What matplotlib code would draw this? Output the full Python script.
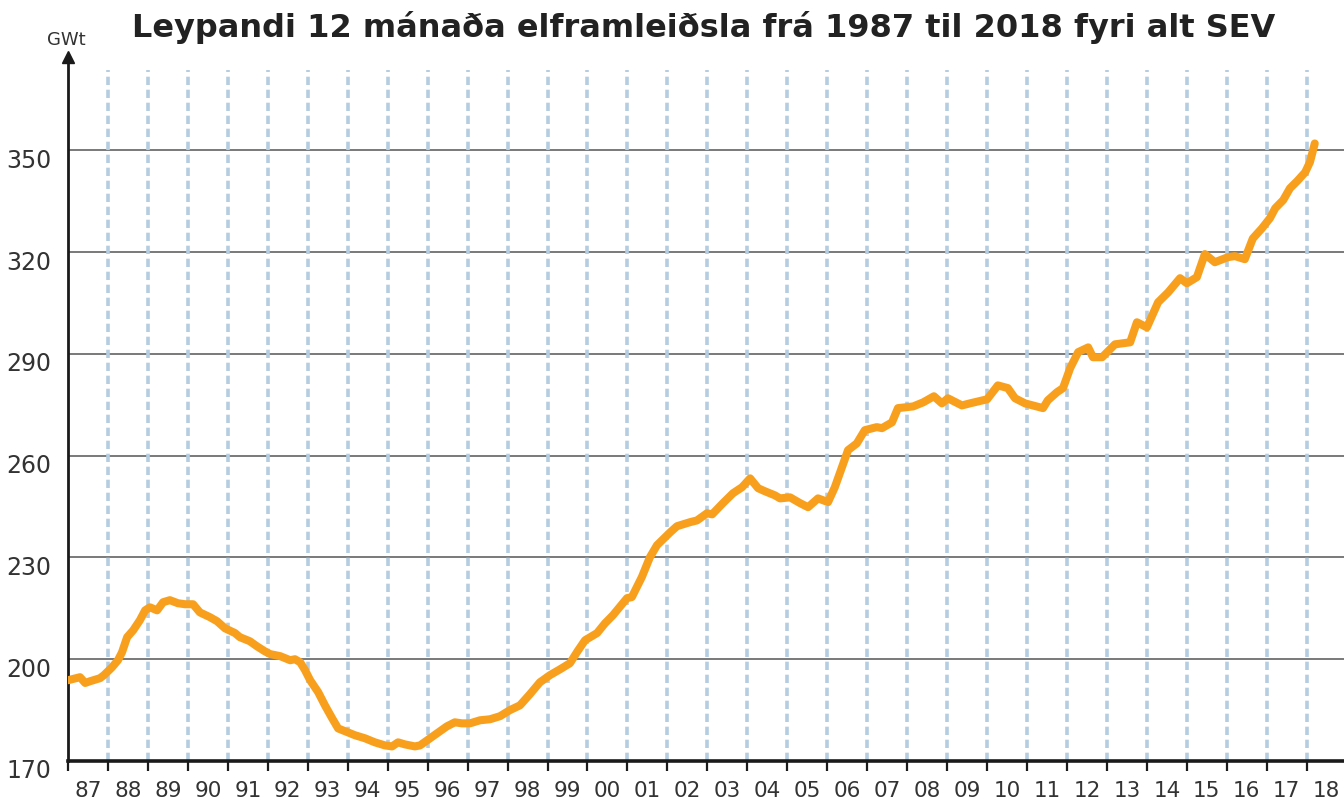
import numpy as np
import matplotlib.pyplot as plt
from matplotlib.transforms import ScaledTranslation

# Leypandi 12 mánaða elframleiðsla (GWt)
years = [1987.00, 1987.30, 1987.43, 1987.55, 1987.80, 1987.90, 1988.10, 1988.25, 1988.35, 1988.48,
         1988.63, 1988.80, 1988.93, 1989.05, 1989.23, 1989.38, 1989.55, 1989.75, 1989.93, 1990.13,
         1990.30, 1990.55, 1990.73, 1990.93, 1991.18, 1991.30, 1991.55, 1991.73, 1991.93, 1992.06,
         1992.31, 1992.56, 1992.68, 1992.81, 1992.93, 1993.06, 1993.26, 1993.43, 1993.61, 1993.76,
         1993.93, 1994.18, 1994.43, 1994.68, 1994.93, 1995.11, 1995.26, 1995.43, 1995.68, 1995.81,
         1996.06, 1996.31, 1996.48, 1996.68, 1996.86, 1997.06, 1997.31, 1997.56, 1997.81, 1998.06,
         1998.31, 1998.56, 1998.81, 1999.06, 1999.31, 1999.56, 1999.76, 1999.94, 2000.24, 2000.44,
         2000.64, 2000.99, 2001.11, 2001.36, 2001.56, 2001.74, 2002.07, 2002.24, 2002.57, 2002.74,
         2002.99, 2003.12, 2003.39, 2003.64, 2003.87, 2004.07, 2004.27, 2004.44, 2004.69, 2004.82,
         2005.07, 2005.32, 2005.52, 2005.77, 2006.02, 2006.19, 2006.37, 2006.52, 2006.74, 2006.94,
         2007.24, 2007.37, 2007.62, 2007.77, 2008.15, 2008.40, 2008.67, 2008.87, 2009.02, 2009.37,
         2009.57, 2010.00, 2010.27, 2010.52, 2010.70, 2010.95, 2011.40, 2011.52, 2011.75, 2011.90,
         2012.08, 2012.28, 2012.53, 2012.65, 2012.88, 2013.20, 2013.58, 2013.75, 2014.00, 2014.28,
         2014.53, 2014.83, 2015.00, 2015.25, 2015.45, 2015.70, 2016.03, 2016.20, 2016.45, 2016.65,
         2016.88, 2017.08, 2017.21, 2017.41, 2017.58, 2017.76, 2017.96, 2018.08, 2018.20]
gwt = [193.8, 194.7, 193.0, 193.5, 194.4, 195.3, 197.6, 199.7, 202.0, 206.5,
       208.5, 211.5, 214.4, 215.3, 214.4, 216.8, 217.4, 216.5, 216.2, 216.2,
       213.8, 212.4, 211.2, 209.1, 207.7, 206.5, 205.3, 203.8, 202.3, 201.5,
       200.9, 199.7, 200.0, 199.1, 196.8, 193.8, 190.3, 186.4, 182.6, 179.6,
       178.8, 177.6, 176.7, 175.5, 174.6, 174.3, 175.5, 174.9, 174.3, 174.6,
       176.7, 178.8, 180.2, 181.4, 181.1, 181.1, 182.0, 182.3, 183.2, 185.0,
       186.4, 189.7, 193.2, 195.3, 197.0, 198.8, 202.5, 205.6, 207.7, 210.6,
       213.0, 218.0, 218.3, 224.2, 230.0, 233.6, 237.4, 239.2, 240.4, 240.9,
       243.0, 242.7, 246.0, 248.9, 250.7, 253.3, 250.4, 249.5, 248.3, 247.4,
       247.7, 246.0, 244.8, 247.4, 246.3, 250.7, 256.6, 261.6, 263.6, 267.5,
       268.4, 268.1, 269.8, 274.0, 274.5, 275.7, 277.5, 275.4, 276.9, 274.8,
       275.4, 276.6, 280.7, 279.9, 276.9, 275.4, 274.0, 276.3, 278.7, 279.9,
       285.8, 290.5, 291.9, 289.0, 289.0, 292.8, 293.4, 299.3, 297.8, 305.2,
       308.1, 312.3, 310.8, 312.6, 319.4, 317.0, 318.5, 318.8, 317.9, 324.0,
       327.0, 330.0, 332.9, 335.3, 338.8, 340.9, 343.5, 346.5, 352.0]

year_labels = ['87', '88', '89', '90', '91', '92', '93', '94', '95', '96', '97', '98', '99', '00',
               '01', '02', '03', '04', '05', '06', '07', '08', '09', '10', '11', '12', '13', '14',
               '15', '16', '17', '18']
yticks = [170, 200, 230, 260, 290, 320, 350]

fig = plt.figure(figsize=(13.44, 8.03), dpi=100)
ax = fig.add_axes([68/1344, 41/803, 1 - 68/1344, (762 - 58)/803])

x0 = 1987
ymin = 170
ymax = 170 + (762 - 58)/3.393
ax.set_xlim(x0, x0 + (1344 - 68)/39.96)
ax.set_ylim(ymin, ymax)

# gridlines og dashed ársmarkar
for v in yticks[1:]:
    ax.axhline(v, color='#555555', lw=1.1, zorder=1)
bounds = np.arange(1988, 2019)
ax.vlines(bounds, ymin, 373.6, colors='#b4cde0', lw=2.6, linestyles=(0, (2.3, 1.3)), zorder=1)

ax.plot(years, gwt, color='#f8a01d', lw=5.8, solid_capstyle='round', solid_joinstyle='round', zorder=3)

for s in ['top', 'right']:
    ax.spines[s].set_visible(False)
ax.spines['left'].set_linewidth(2.0)
ax.spines['bottom'].set_linewidth(2.6)
ax.spines['left'].set_color('#1a1a1a')
ax.spines['bottom'].set_color('#1a1a1a')
ax.plot(0, 1, marker='^', ms=9, color='#1a1a1a', transform=ax.transAxes, clip_on=False)

ax.set_xticks(np.arange(1987, 2019))
ax.set_xticklabels([])
ax.tick_params(axis='x', which='major', direction='out', length=7, width=1.6, color='#1a1a1a')
ax.set_xticks(np.arange(1987, 2019) + 0.5, minor=True)
ax.set_xticklabels(year_labels, minor=True, fontsize=15.5, color='#333333')
ax.tick_params(axis='x', which='minor', length=0, pad=14)

ax.set_yticks(yticks)
ax.set_yticklabels([str(v) for v in yticks], fontsize=17, color='#333333')
ax.tick_params(axis='y', length=0, pad=12)
shift = ScaledTranslation(0, -7/100, fig.dpi_scale_trans)
for lab in ax.get_yticklabels():
    lab.set_transform(lab.get_transform() + shift)

fig.text(66/1344, 1 - 40/803, 'GWt', fontsize=13, color='#333333', ha='center', va='center')
fig.text(704/1344, 1 - 27/803, 'Leypandi 12 mánaða elframleiðsla frá 1987 til 2018 fyri alt SEV',
         fontsize=23, fontweight='bold', color='#222222', ha='center', va='center')

fig.savefig('out.png', dpi=100)
